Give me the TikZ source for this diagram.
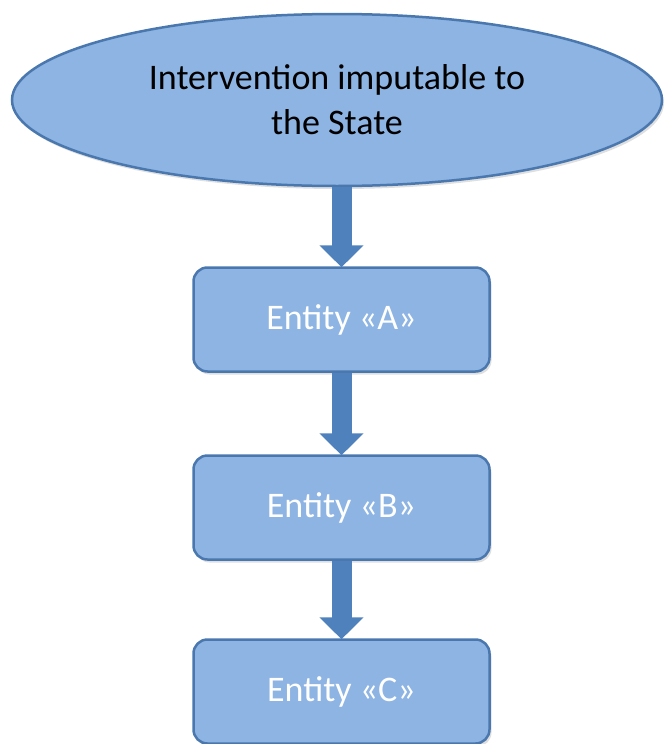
\documentclass[tikz,border=0pt]{standalone}
\usepackage{fontspec}
\setmainfont{Carlito}
\usetikzlibrary{shapes.geometric,arrows.meta,shadows}
\definecolor{boxfill}{HTML}{8DB4E2}
\definecolor{boxline}{HTML}{4A78AE}
\definecolor{arrowfill}{HTML}{4F81BD}
\tikzset{
  entitybox/.style={draw=boxline, line width=2.5pt, fill=boxfill, rounded corners=14pt,
    minimum width=296pt, minimum height=104pt, inner sep=0pt, text=white,
    font=\fontsize{36}{43}\selectfont,
    drop shadow={shadow xshift=2pt, shadow yshift=-3pt, opacity=0.25}},
  topell/.style={ellipse, draw=boxline, line width=2.5pt, fill=boxfill,
    minimum width=650pt, minimum height=172pt, inner sep=0pt, align=center,
    font=\fontsize{36}{45}\selectfont,
    drop shadow={shadow xshift=2pt, shadow yshift=-3pt, opacity=0.25}},
  blockarrow/.style={draw=arrowfill, line width=20pt,
    -{Triangle[width=43pt,length=22pt]}, shorten >=-1pt}
}
\begin{document}
\begin{tikzpicture}[x=1pt,y=-1pt]
\useasboundingbox (0,0) rectangle (664,744);
\node[topell] (st) at (337,100) {Intervention imputable to\\the State};
\node[entitybox] (a) at (341.5,319.5) {Entity «A»};
\node[entitybox] (b) at (341.5,507.5) {Entity «B»};
\node[entitybox] (c) at (341.5,691.5) {Entity «C»};
\draw[blockarrow] (st.south -| a.north) -- (a.north);
\draw[blockarrow] (a.south) -- (b.north);
\draw[blockarrow] (b.south) -- (c.north);
\end{tikzpicture}
\end{document}
